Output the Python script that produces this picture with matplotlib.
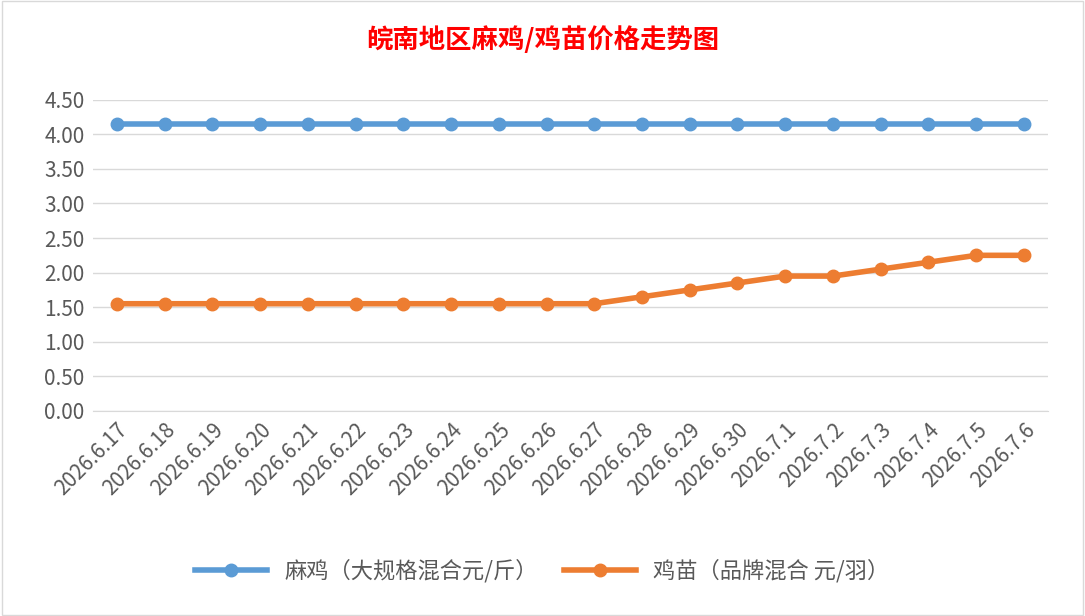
import matplotlib
matplotlib.use("Agg")
import matplotlib.pyplot as plt

plt.rcParams['font.family'] = ['Noto Sans CJK SC', 'DejaVu Sans']

dates = ["2026.6.17", "2026.6.18", "2026.6.19", "2026.6.20", "2026.6.21", "2026.6.22",
         "2026.6.23", "2026.6.24", "2026.6.25", "2026.6.26", "2026.6.27", "2026.6.28",
         "2026.6.29", "2026.6.30", "2026.7.1", "2026.7.2", "2026.7.3", "2026.7.4",
         "2026.7.5", "2026.7.6"]
maji = [4.15] * 20
jimiao = [1.55, 1.55, 1.55, 1.55, 1.55, 1.55, 1.55, 1.55, 1.55, 1.55, 1.55,
          1.65, 1.75, 1.85, 1.95, 1.95, 2.05, 2.15, 2.25, 2.25]

fig = plt.figure(figsize=(10.85, 6.16), dpi=100)
ax = fig.add_axes([0.0857, 0.333, 0.880, 0.505])
x = range(len(dates))
ax.plot(x, maji, color="#5B9BD5", lw=4, marker="o", ms=9, label="麻鸡（大规格混合元/斤）")
ax.plot(x, jimiao, color="#ED7D31", lw=4, marker="o", ms=9, label="鸡苗（品牌混合 元/羽）")

ax.set_xlim(-0.5, len(dates) - 0.5)
ax.set_ylim(0, 4.5)
ax.set_yticks([i * 0.5 for i in range(10)])
ax.set_yticklabels([f"{i * 0.5:.2f}" for i in range(10)], fontsize=15, color="#595959")
ax.set_xticks(list(x))
ax.set_xticklabels(dates, rotation=45, ha="right", rotation_mode="anchor", fontsize=15, color="#595959")
ax.grid(axis="y", color="#D9D9D9", lw=1)
ax.set_axisbelow(True)
for s in ["top", "right", "left"]:
    ax.spines[s].set_visible(False)
ax.spines["bottom"].set_color("#D9D9D9")
ax.tick_params(length=0, pad=6)

fig.text(0.5, 0.935, "皖南地区麻鸡/鸡苗价格走势图", ha="center", va="center",
         fontsize=19, color="#FF0000", fontweight="bold")
fig.legend(loc="center", bbox_to_anchor=(0.5, 0.073), ncol=2, frameon=False,
           fontsize=16, handlelength=3.2, columnspacing=1.2, labelcolor="#595959")
fig.add_artist(plt.Rectangle((0.002, 0.002), 0.996, 0.996, transform=fig.transFigure,
                             fill=False, edgecolor="#D9D9D9", lw=1))
fig.savefig("out.png", dpi=100)
